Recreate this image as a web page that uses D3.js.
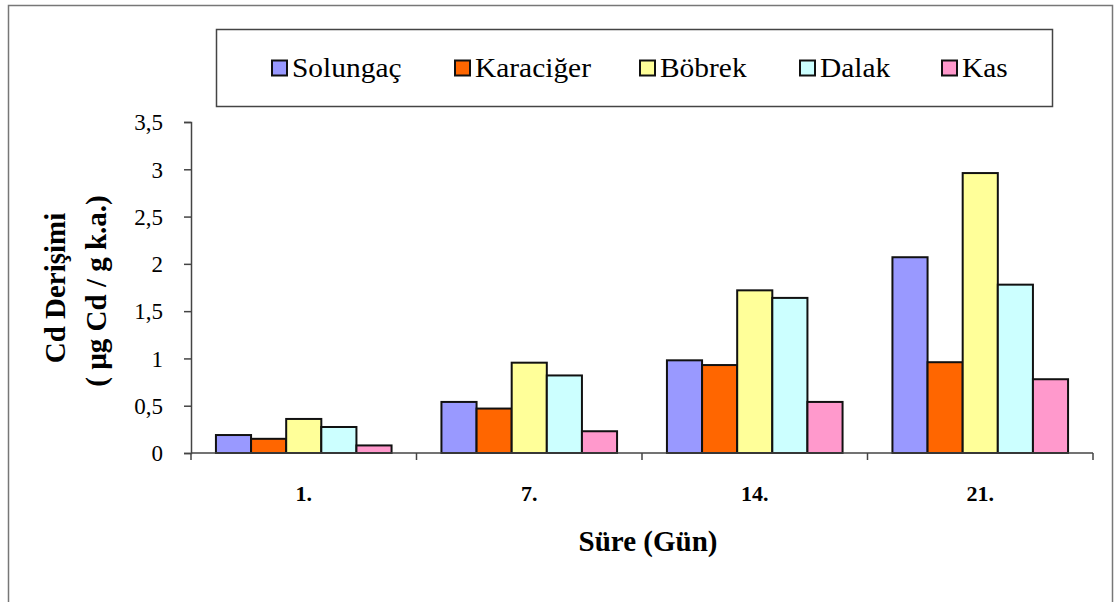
<!DOCTYPE html>
<html>
<head>
<meta charset="utf-8">
<script src="https://cdn.jsdelivr.net/npm/d3@7"></script>
<style>
  html, body { margin: 0; padding: 0; background: #fff; }
  svg { display: block; }
</style>
</head>
<body>
<svg id="chart" width="1115" height="602"></svg>
<script>
const categories = ["1.", "7.", "14.", "21."];
const seriesNames = ["Solungaç", "Karaciğer", "Böbrek", "Dalak", "Kas"];
const seriesColors = ["#9999FF", "#FF6600", "#FFFF99", "#CCFFFF", "#FF99CC"];
const solungac  = [0.19, 0.54, 0.98, 2.07];
const karaciger = [0.15, 0.47, 0.93, 0.96];
const bobrek    = [0.36, 0.955, 1.72, 2.96];
const dalak     = [0.275, 0.82, 1.64, 1.78];
const kas       = [0.08, 0.23, 0.54, 0.78];
const seriesValues = [solungac, karaciger, bobrek, dalak, kas];
const yTicks = [0, 0.5, 1, 1.5, 2, 2.5, 3, 3.5];
const yTickLabels = ["0", "0,5", "1", "1,5", "2", "2,5", "3", "3,5"];
const xTitle = "Süre (Gün)";
const yTitle1 = "Cd Derişimi";
const yTitle2 = "( µg Cd / g k.a.)";

const FONT = "Liberation Serif";
const svg = d3.select("#chart");

// outer frame
svg.append("rect").attr("x", 8.5).attr("y", 5.5).attr("width", 1104).attr("height", 620)
  .attr("fill", "#fff").attr("stroke", "#777").attr("stroke-width", 1.5);

const plot = { left: 191, right: 1093, top: 122, bottom: 453 };

const x0 = d3.scaleBand().domain(categories).range([plot.left, plot.right]).paddingInner(0).paddingOuter(0);
const x1 = d3.scaleBand().domain(seriesNames).range([0, x0.bandwidth()]).paddingInner(0).paddingOuter(0.71);
const y = d3.scaleLinear().domain([0, 3.5]).range([plot.bottom, plot.top]);

// bars
const groups = svg.append("g").selectAll("g").data(categories).join("g")
  .attr("transform", d => `translate(${x0(d)},0)`);
groups.selectAll("rect")
  .data((c, ci) => seriesNames.map((s, si) => ({ s, si, v: seriesValues[si][ci] })))
  .join("rect")
  .attr("x", d => x1(d.s))
  .attr("y", d => y(d.v))
  .attr("width", x1.bandwidth())
  .attr("height", d => y(0) - y(d.v))
  .attr("fill", d => seriesColors[d.si])
  .attr("stroke", "#111").attr("stroke-width", 2);

// y axis
const yAxis = d3.axisLeft(y).tickValues(yTicks).tickFormat((d, i) => yTickLabels[i]).tickSize(7).tickPadding(21);
const gy = svg.append("g").attr("transform", `translate(${plot.left},0)`).call(yAxis);
gy.select(".domain").attr("stroke", "#444").attr("stroke-width", 1.5);
gy.selectAll(".tick line").attr("stroke", "#444").attr("stroke-width", 1.5);
gy.selectAll(".tick text").attr("dy", "0.34em")
  .style("font-family", FONT).style("font-size", "23px").attr("fill", "#000");

// x axis: line + boundary ticks
const gx = svg.append("g");
gx.append("line").attr("x1", plot.left).attr("x2", plot.right).attr("y1", y(0)).attr("y2", y(0))
  .attr("stroke", "#444").attr("stroke-width", 1.5);
const boundaries = categories.map(c => x0(c)).concat([x0(categories[categories.length - 1]) + x0.bandwidth()]);
gx.selectAll("line.tk").data(boundaries).join("line").attr("class", "tk")
  .attr("x1", d => d).attr("x2", d => d).attr("y1", y(0)).attr("y2", y(0) + 7)
  .attr("stroke", "#444").attr("stroke-width", 1.5);
gx.selectAll("text").data(categories).join("text")
  .attr("x", d => x0(d) + x0.bandwidth() / 2).attr("y", 501)
  .attr("text-anchor", "middle").style("font-family", FONT).style("font-size", "22px").style("font-weight", "bold")
  .text(d => d);

// axis titles
svg.append("text").attr("x", 648).attr("y", 551).attr("text-anchor", "middle")
  .style("font-family", FONT).style("font-size", "29px").style("font-weight", "bold").text(xTitle);
svg.append("text").attr("transform", "translate(65,288) rotate(-90)").attr("text-anchor", "middle")
  .style("font-family", FONT).style("font-size", "29px").style("font-weight", "bold").text(yTitle1);
svg.append("text").attr("transform", "translate(106,291) rotate(-90)").attr("text-anchor", "middle")
  .style("font-family", FONT).style("font-size", "29px").style("font-weight", "bold").text(yTitle2);

// legend
const legend = svg.append("g");
legend.append("rect").attr("x", 216.5).attr("y", 29.5).attr("width", 836).attr("height", 77)
  .attr("fill", "#fff").attr("stroke", "#444").attr("stroke-width", 1.5);
const legendX = [272, 455, 640, 800, 942];
const li = legend.selectAll("g.item").data(seriesNames).join("g").attr("class", "item")
  .attr("transform", (d, i) => `translate(${legendX[i]},0)`);
li.append("rect").attr("x", 0).attr("y", 60.5).attr("width", 15).attr("height", 15)
  .attr("fill", (d, i) => seriesColors[i]).attr("stroke", "#111").attr("stroke-width", 2);
li.append("text").attr("transform", "translate(20,77) scale(1.09,1)")
  .style("font-family", FONT).style("font-size", "27px").text(d => d);
</script>
</body>
</html>
